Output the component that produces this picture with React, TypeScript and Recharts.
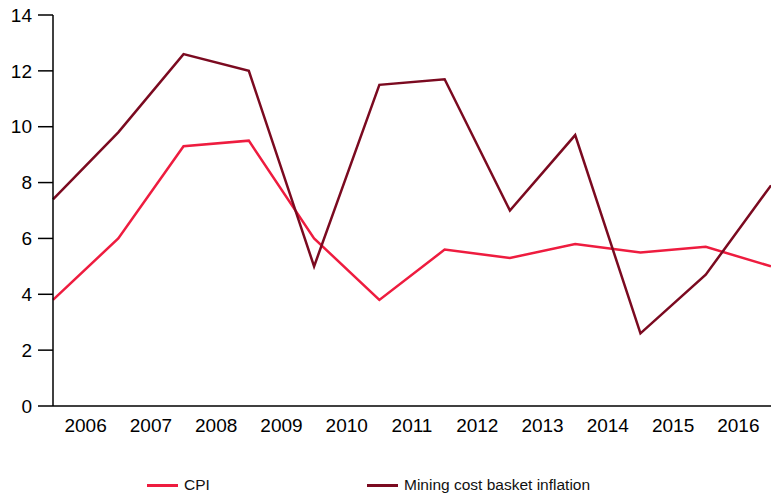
import { LineChart, Line, XAxis, YAxis, Legend } from 'recharts';

const years = ['2006', '2007', '2008', '2009', '2010', '2011', '2012', '2013', '2014', '2015', '2016'];
const cpi = [3.8, 6.0, 9.3, 9.5, 6.0, 3.8, 5.6, 5.3, 5.8, 5.5, 5.7, 5.0];
const mining = [7.4, 9.8, 12.6, 12.0, 5.0, 11.5, 11.7, 7.0, 9.7, 2.6, 4.7, 7.9];
const yTicks = [0, 2, 4, 6, 8, 10, 12, 14];

const CPI_COLOR = '#ee1c3f';
const MINING_COLOR = '#7b0a20';
const FONT = '"Liberation Sans", Arial, Helvetica, sans-serif';

const chartData = cpi.map((v, i) => ({ x: i, cpi: v, mining: mining[i] }));
// year labels sit between the data points
const xTicks = years.map((_, i) => i + 0.5);

function LegendContent() {
  const items = [
    { label: 'CPI', color: CPI_COLOR, left: 147 },
    { label: 'Mining cost basket inflation', color: MINING_COLOR, left: 367 },
  ];
  return (
    <div style={{ position: 'relative', height: 20, fontFamily: FONT, fontSize: 15.5, color: '#111' }}>
      {items.map((it) => (
        <div key={it.label} style={{ position: 'absolute', left: it.left, top: 0, display: 'flex', alignItems: 'center' }}>
          <span style={{ display: 'inline-block', width: 31, height: 3, background: it.color, marginRight: 6 }} />
          <span>{it.label}</span>
        </div>
      ))}
    </div>
  );
}

export default function App() {
  return (
    <div style={{ position: 'absolute', left: 0, top: 0, background: '#fff' }}>
      <LineChart width={771} height={497} data={chartData} margin={{ top: 15, right: 0, left: 0, bottom: 61 }}>
        <XAxis
          dataKey="x"
          type="number"
          domain={[0, 11]}
          ticks={xTicks}
          tickFormatter={(v: number) => years[Math.floor(v)]}
          tickLine={false}
          tickSize={0}
          tickMargin={13}
          height={30}
          axisLine={{ stroke: '#000', strokeWidth: 1.5 }}
          tick={{ fill: '#000', fontSize: 19, fontFamily: FONT }}
        />
        <YAxis
          domain={[0, 14]}
          ticks={yTicks}
          width={53}
          tickSize={15}
          tickMargin={6}
          axisLine={{ stroke: '#000', strokeWidth: 1.5 }}
          tickLine={{ stroke: '#000', strokeWidth: 1.5 }}
          tick={{ fill: '#000', fontSize: 19, fontFamily: FONT }}
        />
        <Legend
          layout="horizontal"
          verticalAlign="middle"
          wrapperStyle={{ top: 476, left: 0, width: 771 }}
          content={<LegendContent />}
        />
        <Line dataKey="cpi" name="CPI" stroke={CPI_COLOR} strokeWidth={2.5} dot={false} isAnimationActive={false} />
        <Line dataKey="mining" name="Mining cost basket inflation" stroke={MINING_COLOR} strokeWidth={2.5} dot={false} isAnimationActive={false} />
      </LineChart>
    </div>
  );
}
